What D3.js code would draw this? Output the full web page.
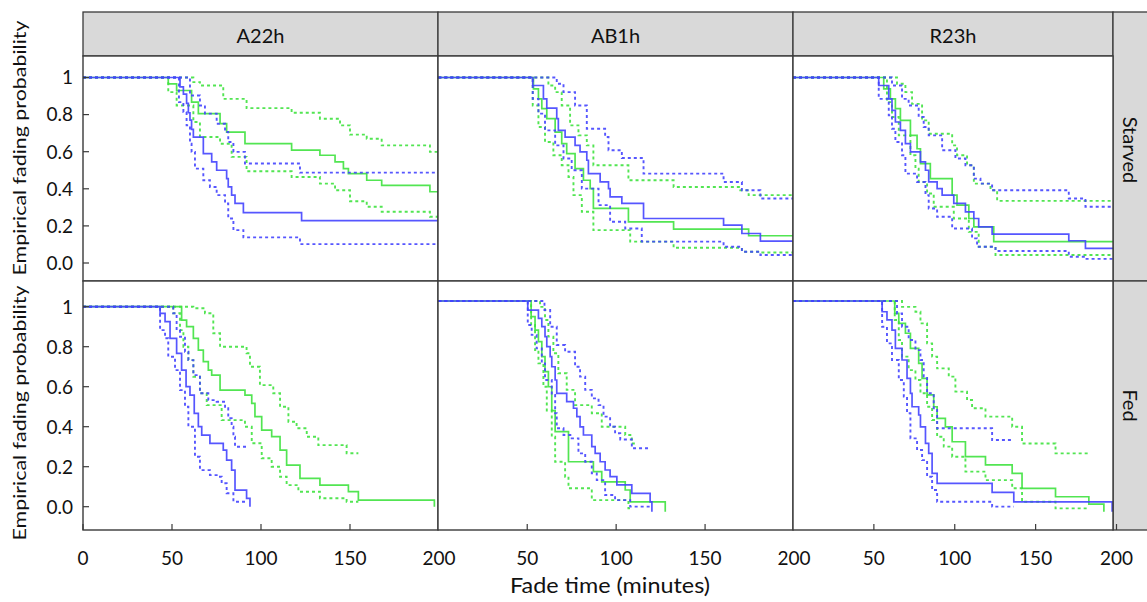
<!DOCTYPE html>
<html><head><meta charset="utf-8">
<script src="https://cdn.jsdelivr.net/npm/d3@7"></script>
<style>
body{margin:0;background:#fff;}
text{font-family:Lato,"Open Sans","DejaVu Sans",sans-serif;fill:#111;}
</style>
</head><body>
<svg id="chart" width="1147" height="602"></svg>
<script>
// ---------- categories & ticks ----------
const strains = ["A22h", "AB1h", "R23h"];
const conditions = ["Starved", "Fed"];
const xTicksCol1 = [0, 50, 100, 150, 200];
const xTicksOther = [50, 100, 150, 200];
const yTicks = [0, 0.2, 0.4, 0.6, 0.8, 1];
const yTickLabels = ["0.0", "0.2", "0.4", "0.6", "0.8", "1"];
const xTitle = "Fade time (minutes)";
const yTitle = "Empirical fading probability";

// ---------- Starved / A22h ----------
const starvedA22hGreen = [[0,1],[47.9,0.966],[52.6,0.93],[61,0.867],[64.8,0.805],[77,0.751],[80.7,0.706],[91,0.643],[117.2,0.608],[133.1,0.581],[141.6,0.545],[146.3,0.509],[149.1,0.482],[159.4,0.446],[167.8,0.419],[194.9,0.384],[200,0.384]];
const starvedA22hGreenHi = [[0,1],[62,0.975],[65.7,0.957],[78.8,0.885],[91.9,0.835],[117.2,0.81],[133.1,0.778],[144.4,0.742],[150,0.692],[159.4,0.67],[167.8,0.634],[194.9,0.599],[200,0.599]];
const starvedA22hGreenLo = [[0,1],[47.9,0.921],[52.6,0.849],[62,0.76],[65.7,0.679],[77,0.643],[83.5,0.572],[91.9,0.495],[117.2,0.464],[133.1,0.428],[141.6,0.392],[150,0.333],[159.4,0.303],[167.8,0.276],[194.9,0.249],[200,0.249]];
const starvedA22hBlue = [[0,1],[54.5,0.95],[56.4,0.91],[58.2,0.86],[59.2,0.81],[60.1,0.77],[61,0.72],[62,0.679],[67.6,0.59],[72.3,0.545],[75.1,0.5],[80.7,0.455],[81.6,0.41],[83.5,0.366],[85.4,0.321],[90.1,0.272],[122.8,0.228],[200,0.228]];
const starvedA22hBlueHi = [[0,1],[60.1,0.903],[65.7,0.849],[68.5,0.805],[75.1,0.751],[79.8,0.706],[81.6,0.652],[84.5,0.599],[91,0.536],[121.9,0.487],[200,0.487]];
const starvedA22hBlueLo = [[0,1],[53.9,0.867],[56.4,0.814],[58.2,0.742],[60.1,0.643],[61,0.599],[62.9,0.509],[67.6,0.446],[71.3,0.41],[75.1,0.366],[79.8,0.321],[81.6,0.24],[84.5,0.177],[90.1,0.138],[121.9,0.102],[200,0.102]];

// ---------- Starved / AB1h ----------
const starvedAB1hGreen = [[0,1],[53.5,0.939],[56.3,0.885],[58.2,0.832],[61,0.778],[65.7,0.706],[69.4,0.643],[72.2,0.59],[76.9,0.509],[81.6,0.446],[85.4,0.401],[87.2,0.294],[106.9,0.222],[132.3,0.183],[174.5,0.147],[200,0.147]];
const starvedAB1hGreenHi = [[0,1],[61.9,0.957],[65.7,0.921],[69.4,0.849],[74.1,0.742],[78.8,0.688],[83.5,0.634],[87.2,0.527],[106.9,0.446],[132.3,0.41],[169.8,0.392],[174.5,0.366],[200,0.366]];
const starvedAB1hGreenLo = [[0,1],[53.1,0.849],[56.3,0.733],[60,0.652],[64.7,0.581],[69.4,0.527],[73.2,0.464],[76,0.366],[80.7,0.276],[87.2,0.177],[107.9,0.115],[132.3,0.082],[170.7,0.061],[181.1,0.057],[200,0.057]];
const starvedAB1hBlue = [[0,1],[53.1,0.957],[59.1,0.885],[61,0.835],[66.6,0.778],[67.5,0.715],[71.3,0.679],[76.9,0.634],[79.7,0.599],[83.5,0.554],[84.4,0.482],[91,0.437],[95.7,0.401],[96.6,0.357],[103.2,0.321],[115.4,0.24],[160.4,0.204],[170.7,0.159],[181.1,0.118],[200,0.118]];
const starvedAB1hBlueHi = [[0,1],[66.6,0.966],[70.4,0.921],[76.9,0.849],[83.5,0.724],[93.8,0.679],[95.7,0.608],[103.2,0.566],[115.4,0.482],[160.4,0.437],[170.7,0.392],[181.1,0.348],[200,0.348]];
const starvedAB1hBlueLo = [[0,1],[53.1,0.885],[56.3,0.805],[60,0.715],[65.7,0.634],[70.4,0.563],[75,0.5],[80.7,0.401],[90.1,0.312],[96.6,0.222],[105.1,0.186],[114.4,0.115],[160.4,0.088],[170.7,0.061],[181.1,0.043],[200,0.043]];

// ---------- Starved / R23h ----------
const starvedR23hGreen = [[0,1],[56.1,0.939],[60.2,0.885],[63.3,0.832],[66.4,0.769],[72.6,0.688],[76.7,0.616],[78.8,0.536],[84.9,0.455],[98.4,0.366],[101.4,0.312],[108.7,0.24],[111.8,0.195],[124.1,0.115],[200,0.115]];
const starvedR23hGreenHi = [[0,1],[64.3,0.966],[69.5,0.921],[73.6,0.858],[79.8,0.769],[83.9,0.697],[98.4,0.634],[101.4,0.581],[107.6,0.527],[111.8,0.428],[122.1,0.392],[126.2,0.335],[200,0.335]];
const starvedR23hGreenLo = [[0,1],[58.1,0.867],[61.2,0.787],[65.4,0.688],[72.6,0.581],[75.7,0.509],[77.7,0.437],[82.9,0.375],[87,0.303],[99.4,0.24],[108.7,0.168],[114.8,0.088],[125.2,0.043],[200,0.043]];
const starvedR23hBlue = [[0,1],[53,0.957],[59.2,0.885],[61.2,0.823],[63.3,0.76],[66.4,0.715],[69.5,0.643],[72.6,0.599],[78.8,0.545],[81.9,0.5],[83.9,0.437],[89.1,0.401],[92.2,0.366],[99.4,0.321],[106.6,0.276],[111.8,0.24],[114.8,0.195],[123.1,0.156],[170.5,0.12],[180.8,0.079],[200,0.079]];
const starvedR23hBlueHi = [[0,1],[61.2,0.957],[67.4,0.885],[71.5,0.849],[77.7,0.787],[80.8,0.733],[83.9,0.688],[92.2,0.608],[100.4,0.563],[106.6,0.527],[111.8,0.455],[115.9,0.428],[123.1,0.392],[170.5,0.348],[180.8,0.303],[200,0.303]];
const starvedR23hBlueLo = [[0,1],[53,0.885],[59.2,0.796],[61.2,0.724],[63.3,0.652],[67.4,0.581],[69.5,0.482],[76.7,0.437],[81.9,0.366],[83.9,0.294],[89.1,0.249],[98.4,0.186],[110.7,0.133],[113.8,0.088],[125.2,0.065],[170.5,0.034],[180.8,0.022],[200,0.022]];

// ---------- Fed / A22h ----------
const fedA22hGreen = [[0,1],[55.4,0.933],[58.2,0.9],[62,0.842],[64.8,0.783],[67.6,0.725],[70.4,0.683],[72.3,0.658],[77,0.583],[91,0.558],[94.8,0.517],[96.6,0.45],[100.4,0.383],[106,0.35],[110.7,0.283],[114.4,0.208],[121.9,0.142],[133.1,0.108],[149.1,0.075],[154.7,0.033],[197.4,0]];
const fedA22hGreenHi = [[0,1],[62,0.992],[68.5,0.967],[73.2,0.867],[77,0.8],[91.9,0.767],[93.8,0.7],[99.4,0.608],[106.9,0.567],[110.7,0.5],[115.4,0.425],[120,0.392],[125.7,0.35],[132.2,0.308],[148.1,0.267],[154.7,0.267]];
const fedA22hGreenLo = [[0,1],[50.7,0.967],[54.5,0.883],[56.4,0.8],[59.2,0.733],[62,0.65],[65.7,0.567],[69.5,0.508],[77.9,0.433],[91,0.4],[94.8,0.317],[100.4,0.242],[106,0.2],[110.7,0.15],[114.4,0.108],[121,0.075],[133.1,0.042],[148.1,0.025],[154.7,0.025]];
const fedA22hBlue = [[0,1],[43.3,0.967],[46.1,0.925],[48.9,0.842],[52.6,0.767],[55.4,0.683],[57.9,0.6],[60.1,0.558],[62.5,0.467],[64.8,0.4],[66.7,0.358],[71.3,0.317],[78.8,0.283],[80.7,0.233],[83.5,0.183],[85.4,0.083],[91.9,0.042],[93.8,0]];
const fedA22hBlueHi = [[0,1],[50.7,0.967],[52.6,0.883],[54.5,0.85],[57.3,0.775],[59.2,0.733],[62,0.658],[65.7,0.567],[70.4,0.533],[75.1,0.525],[79.8,0.492],[81.6,0.442],[83.5,0.4],[84.5,0.35],[85.4,0.3],[91.9,0.3]];
const fedA22hBlueLo = [[0,1],[43.3,0.883],[46.1,0.842],[47.9,0.75],[51.7,0.683],[54.5,0.583],[57.3,0.5],[59.2,0.4],[62.9,0.25],[65.7,0.183],[71.3,0.158],[75.1,0.15],[77.9,0.117],[80.7,0.067],[84.5,0.025],[91.9,0.025]];

// ---------- Fed / AB1h ----------
const fedAB1hGreen = [[0,1],[52.2,0.926],[54.4,0.862],[56.3,0.807],[58.2,0.736],[60,0.665],[61.9,0.593],[63.8,0.48],[65.7,0.38],[73.2,0.237],[87.2,0.19],[91.9,0.142],[105.1,0.103],[107.9,0.047],[127.6,0]];
const fedAB1hGreenHi = [[0,1],[57.2,0.972],[60,0.91],[61.9,0.831],[64.7,0.752],[67.5,0.657],[72.2,0.578],[76.9,0.506],[86.3,0.467],[91.9,0.403],[105.1,0.364],[108.8,0.324],[110.5,0.324]];
const fedAB1hGreenLo = [[0,1],[52.2,0.886],[54.4,0.767],[56.3,0.704],[59.1,0.593],[61,0.48],[63.8,0.356],[65.7,0.237],[71.3,0.166],[73.2,0.111],[86.3,0.055],[106.9,0.016],[108.8,0.016]];
const fedAB1hBlue = [[0,1],[50.3,0.957],[56.3,0.918],[58.2,0.878],[60,0.831],[61,0.783],[62.9,0.736],[63.8,0.688],[65.7,0.625],[66.6,0.562],[72.2,0.522],[76,0.491],[77.9,0.451],[79.7,0.403],[81.6,0.364],[86.3,0.309],[88.2,0.277],[91,0.237],[93.8,0.198],[96.6,0.166],[100.4,0.127],[108.8,0.087],[119.1,0.047],[120.1,0]];
const fedAB1hBlueHi = [[0,1],[59.7,0.957],[62.9,0.878],[66.6,0.791],[71.3,0.759],[76.9,0.688],[79.7,0.641],[82.6,0.578],[86.3,0.538],[90.1,0.506],[92.9,0.451],[96.6,0.403],[99.4,0.372],[102.3,0.343],[108.8,0.301],[119.1,0.301]];
const fedAB1hBlueLo = [[0,1],[50.3,0.886],[52.5,0.839],[55.3,0.775],[58.2,0.704],[60,0.625],[63.8,0.554],[65.7,0.467],[66.6,0.396],[70.4,0.364],[75,0.348],[78.8,0.277],[82.6,0.237],[86.3,0.182],[89.1,0.15],[93.8,0.079],[99.4,0.055],[107.9,0.024],[119.1,0.024]];

// ---------- Fed / R23h ----------
const fedR23hGreen = [[0,1],[62.9,0.941],[65.4,0.894],[69.5,0.847],[72.6,0.775],[77.7,0.704],[79.8,0.633],[82.9,0.554],[87,0.498],[89.1,0.443],[94.2,0.403],[98.4,0.332],[106.6,0.261],[119,0.222],[135.5,0.182],[141.6,0.111],[162.3,0.071],[182.9,0.036],[192.2,0]];
const fedR23hGreenHi = [[0,1],[67.4,0.972],[75.7,0.949],[78.8,0.894],[82.9,0.799],[86,0.736],[89.1,0.68],[96.3,0.641],[100.4,0.57],[107.6,0.53],[110.7,0.491],[119,0.451],[135.5,0.403],[141.6,0.324],[162.3,0.277],[182.9,0.277]];
const fedR23hGreenLo = [[0,1],[62.9,0.91],[65.4,0.815],[67.4,0.736],[71.5,0.672],[75.7,0.625],[78.8,0.562],[82.9,0.498],[86,0.435],[89.1,0.356],[93.2,0.309],[98.4,0.261],[106.6,0.19],[119,0.15],[135.5,0.111],[141.6,0.047],[162.3,0.016],[182.9,0.016]];
const fedR23hBlue = [[0,1],[55.1,0.949],[58.1,0.91],[61.2,0.862],[63.3,0.775],[67.4,0.72],[70.5,0.633],[72.6,0.562],[73.6,0.498],[77.7,0.459],[78.8,0.403],[81.9,0.324],[83.9,0.277],[86,0.182],[89.1,0.134],[123.1,0.092],[136.5,0.047],[197.3,0]];
const fedR23hBlueHi = [[0,1],[64.3,0.941],[67.4,0.878],[71.5,0.815],[75.7,0.767],[78.8,0.72],[80.8,0.641],[82.9,0.562],[87,0.491],[89.1,0.396],[123.1,0.34],[136.5,0.34]];
const fedR23hBlueLo = [[0,1],[55.1,0.878],[58.1,0.799],[61.2,0.72],[65.4,0.625],[68.5,0.546],[70.5,0.467],[72.6,0.348],[76.7,0.293],[79.8,0.245],[82.9,0.166],[86,0.103],[89.1,0.047],[123.1,0.024],[136.5,0.024]];

// ---------- assemble panels ----------
const panelData = [
  [ // Starved
    {greenHi:starvedA22hGreenHi, greenLo:starvedA22hGreenLo, green:starvedA22hGreen, blueHi:starvedA22hBlueHi, blueLo:starvedA22hBlueLo, blue:starvedA22hBlue},
    {greenHi:starvedAB1hGreenHi, greenLo:starvedAB1hGreenLo, green:starvedAB1hGreen, blueHi:starvedAB1hBlueHi, blueLo:starvedAB1hBlueLo, blue:starvedAB1hBlue},
    {greenHi:starvedR23hGreenHi, greenLo:starvedR23hGreenLo, green:starvedR23hGreen, blueHi:starvedR23hBlueHi, blueLo:starvedR23hBlueLo, blue:starvedR23hBlue}
  ],
  [ // Fed
    {greenHi:fedA22hGreenHi, greenLo:fedA22hGreenLo, green:fedA22hGreen, blueHi:fedA22hBlueHi, blueLo:fedA22hBlueLo, blue:fedA22hBlue},
    {greenHi:fedAB1hGreenHi, greenLo:fedAB1hGreenLo, green:fedAB1hGreen, blueHi:fedAB1hBlueHi, blueLo:fedAB1hBlueLo, blue:fedAB1hBlue},
    {greenHi:fedR23hGreenHi, greenLo:fedR23hGreenLo, green:fedR23hGreen, blueHi:fedR23hBlueHi, blueLo:fedR23hBlueLo, blue:fedR23hBlue}
  ]
];

const GREEN = "#3fe23f", BLUE = "#4444ff", FRAME = "#3a3a3a", STRIP = "#d9d9d9";
const seriesStyle = [
  {key:"greenHi", color:GREEN, dash:"3,3", w:1.9},
  {key:"greenLo", color:GREEN, dash:"3,3", w:1.9},
  {key:"green",   color:GREEN, dash:null,  w:1.7},
  {key:"blueHi",  color:BLUE,  dash:"3,3", w:1.9},
  {key:"blueLo",  color:BLUE,  dash:"3,3", w:1.9},
  {key:"blue",    color:BLUE,  dash:null,  w:1.7}
];

// ---------- layout ----------
const colDefs = [
  {x0:83,  x1:438,  r:[83,439]},
  {x0:438, x1:793,  r:[438.3,794]},
  {x0:793, x1:1113, r:[793,1116.5]}
];
const rowDefs = [
  {y0:56,  y1:281, r:[[263,77.5],[263,77.5],[263,77.5]]},
  {y0:281, y1:530, r:[[506.7,306.7],[511.7,301],[511.7,301]]}
];
const stripTop = 12, stripRight = 1147;

const svg = d3.select("#chart");
const defs = svg.append("defs");

// top strips
strains.forEach((s, c) => {
  const cd = colDefs[c];
  svg.append("rect").attr("x", cd.x0).attr("y", stripTop).attr("width", cd.x1 - cd.x0).attr("height", rowDefs[0].y0 - stripTop)
    .attr("fill", STRIP).attr("stroke", FRAME).attr("stroke-width", 1.3);
  svg.append("text").attr("x", (cd.x0 + cd.x1) / 2).attr("y", 43).attr("text-anchor", "middle")
    .attr("font-size", 20).text(s);
});
// right strips
conditions.forEach((cnd, r) => {
  const rd = rowDefs[r];
  const top = r === 0 ? stripTop : rd.y0;
  svg.append("rect").attr("x", 1113).attr("y", top).attr("width", stripRight - 1113 + 5).attr("height", rd.y1 - top)
    .attr("fill", STRIP).attr("stroke", FRAME).attr("stroke-width", 1.3);
  const cy = r === 0 ? 150 : (rd.y0 + rd.y1) / 2;
  svg.append("text").attr("transform", `translate(1123,${cy}) rotate(90)`).attr("text-anchor", "middle")
    .attr("font-size", 20).text(cnd);
});

// panels
rowDefs.forEach((rd, r) => {
  colDefs.forEach((cd, c) => {
    const x = d3.scaleLinear().domain([0, 200]).range(cd.r);
    const y = d3.scaleLinear().domain([0, 1]).range(rd.r[c]);
    const id = `clip-${r}-${c}`;
    defs.append("clipPath").attr("id", id).append("rect")
      .attr("x", cd.x0).attr("y", rd.y0).attr("width", cd.x1 - cd.x0).attr("height", rd.y1 - rd.y0);
    svg.append("rect").attr("x", cd.x0).attr("y", rd.y0).attr("width", cd.x1 - cd.x0).attr("height", rd.y1 - rd.y0)
      .attr("fill", "#fff");
    const g = svg.append("g").attr("clip-path", `url(#${id})`);
    const line = d3.line().x(d => x(d[0])).y(d => y(d[1])).curve(d3.curveStepAfter);
    const pd = panelData[r][c];
    seriesStyle.forEach(st => {
      g.append("path").datum(pd[st.key]).attr("d", line)
        .attr("fill", "none").attr("stroke", st.color).attr("stroke-width", st.w)
        .attr("stroke-dasharray", st.dash).attr("opacity", 0.9);
    });
    // y ticks (first column only)
    if (c === 0) {
      yTicks.forEach((t, i) => {
        svg.append("line").attr("x1", cd.x0).attr("x2", cd.x0 + 6).attr("y1", y(t)).attr("y2", y(t))
          .attr("stroke", FRAME).attr("stroke-width", 1.2);
        svg.append("text").attr("x", 73).attr("y", y(t)).attr("dy", "0.36em").attr("text-anchor", "end")
          .attr("font-size", 19).text(yTickLabels[i]);
      });
      svg.append("text").attr("transform", `translate(26,${r === 0 ? 148 : 413}) rotate(-90)`)
        .attr("text-anchor", "middle").attr("font-size", 18)
        .attr("textLength", 255).attr("lengthAdjust", "spacingAndGlyphs").text(yTitle);
    }
    // x ticks (bottom row only)
    if (r === 1) {
      const ticks = c === 0 ? xTicksCol1 : xTicksOther;
      ticks.forEach(t => {
        svg.append("line").attr("x1", x(t)).attr("x2", x(t)).attr("y1", rd.y1).attr("y2", rd.y1 - 6)
          .attr("stroke", FRAME).attr("stroke-width", 1.2);
        svg.append("text").attr("x", x(t)).attr("y", 565).attr("text-anchor", "middle")
          .attr("font-size", 19).text(d3.format("d")(t));
      });
    }
    svg.append("rect").attr("x", cd.x0).attr("y", rd.y0).attr("width", cd.x1 - cd.x0).attr("height", rd.y1 - rd.y0)
      .attr("fill", "none").attr("stroke", FRAME).attr("stroke-width", 1.4);
  });
});

svg.append("text").attr("x", 610).attr("y", 593).attr("text-anchor", "middle")
  .attr("font-size", 21).attr("textLength", 200).attr("lengthAdjust", "spacingAndGlyphs").text(xTitle);
</script>
</body></html>
